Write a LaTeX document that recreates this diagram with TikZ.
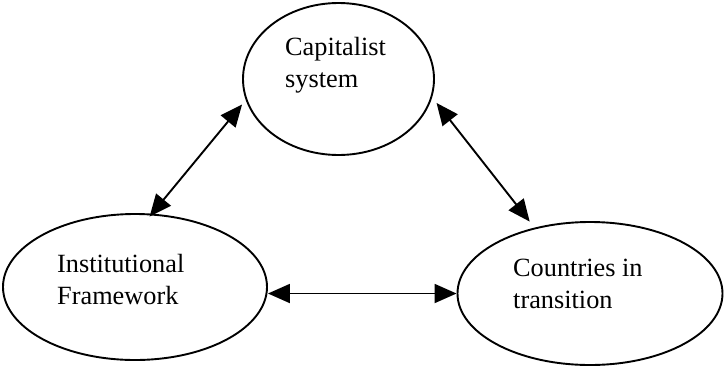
\documentclass[tikz,border=0pt]{standalone}
\usepackage{fontspec}
\setmainfont{Liberation Serif}
\usetikzlibrary{arrows.meta,shapes.geometric}
\tikzset{
  bubble/.style={draw, ellipse, line width=1.9pt, inner sep=0pt},
  caption/.style={anchor=base west, align=left, inner sep=0pt,
    font=\fontsize{26.3}{32}\selectfont},
  link/.style={line width=1.9pt,
    {Triangle[length=22pt,width=19pt]}-{Triangle[length=22pt,width=19pt]}}
}
\begin{document}
\begin{tikzpicture}[x=1pt,y=-1pt]
  \useasboundingbox (0,0) rectangle (726,365);
  % the three ellipses
  \node[bubble, minimum width=191pt, minimum height=152pt] (cap) at (338.5,79) {};
  \node[bubble, minimum width=264pt, minimum height=146pt] (inst) at (135,287) {};
  \node[bubble, minimum width=265pt, minimum height=143pt] (ctr) at (590,293.5) {};
  % their labels (base anchor sits on the last line)
  \node[caption] (capT) at (285,87) {Capitalist\\system};
  \node[caption] (instT) at (57,304) {Institutional\\Framework};
  \node[caption] (ctrT) at (513,308) {Countries in\\transition};
  % two-way links, ends nudged off the ellipse borders
  \draw[link] ([shift={(-5,1)}]cap.195) -- ([shift={(-1,3)}]inst.78);
  \draw[link] ([shift={(6,1)}]cap.346) -- ([shift={(-5,-6)}]ctr.130);
  \draw[link] (inst.east |- ctr.west) -- (ctr.west);
\end{tikzpicture}
\end{document}
